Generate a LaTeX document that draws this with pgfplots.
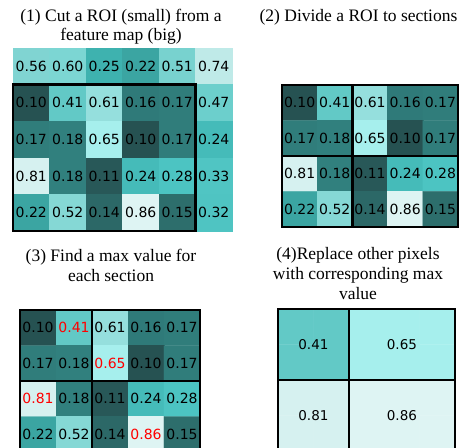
\documentclass[border=0pt]{standalone}
\usepackage{pgfplots}
\pgfplotsset{compat=1.18}
\usepackage{pgfplotstable}
\usepackage{fontspec}
\setmainfont{Liberation Serif}
\newfontfamily\dejavu{DejaVu Sans}
\protected\def\numfont{\dejavu\fontsize{14}{16}\selectfont}
\protected\def\bignumfont{\dejavu\fontsize{13.5}{15}\selectfont}
\protected\def\tfont{\fontsize{17.5}{20}\selectfont}
\protected\def\printval#1{\pgfmathprintnumber[fixed,fixed zerofill,precision=2,assume math mode=true]{#1}}

\pgfplotsset{
  colormap={roi}{
    rgb255(10pt)=(38,82,82);
    rgb255(11pt)=(40,88,88);
    rgb255(14pt)=(44,104,103);
    rgb255(15pt)=(45,110,108);
    rgb255(16pt)=(47,122,121);
    rgb255(17pt)=(48,125,123);
    rgb255(18pt)=(49,128,126);
    rgb255(22pt)=(59,165,162);
    rgb255(24pt)=(69,187,185);
    rgb255(25pt)=(62,178,175);
    rgb255(28pt)=(76,196,194);
    rgb255(32pt)=(79,196,194);
    rgb255(33pt)=(80,197,195);
    rgb255(41pt)=(98,201,198);
    rgb255(47pt)=(108,207,204);
    rgb255(51pt)=(120,210,207);
    rgb255(52pt)=(133,216,213);
    rgb255(56pt)=(128,212,210);
    rgb255(60pt)=(124,214,211);
    rgb255(61pt)=(149,223,221);
    rgb255(65pt)=(166,239,237);
    rgb255(74pt)=(191,234,232);
    rgb255(81pt)=(214,241,240);
    rgb255(86pt)=(222,244,243)
  },
  roiax/.style={
    scale only axis, anchor=north west, y dir=reverse,
    xtick=\empty, ytick=\empty, enlargelimits=false,
    axis line style={black!25, line width=0.6pt},
    colormap name=roi, point meta min=0.10, point meta max=0.86,
    clip=false,
  },
  mycells/.style={matrix plot*, mesh/cols=#1, point meta=explicit},
  mylabs/.style={only marks, mark=none, point meta=explicit,
    nodes near coords={\printval{\pgfplotspointmeta}},
    every node near coord/.style={anchor=center, font=\numfont, text=#1, inner sep=0pt}},
  mybox/.style={black, line width=2.2pt, line cap=rect, mark=none},
}

% feature map (5 rows x 6 cols)
\pgfplotstableread{
x y v
0 0 0.56
1 0 0.60
2 0 0.25
3 0 0.22
4 0 0.51
5 0 0.74
0 1 0.10
1 1 0.41
2 1 0.61
3 1 0.16
4 1 0.17
5 1 0.47
0 2 0.17
1 2 0.18
2 2 0.65
3 2 0.10
4 2 0.17
5 2 0.24
0 3 0.81
1 3 0.18
2 3 0.11
3 3 0.24
4 3 0.28
5 3 0.33
0 4 0.22
1 4 0.52
2 4 0.14
3 4 0.86
4 4 0.15
5 4 0.32
}\fmap

% ROI (4 rows x 5 cols)
\pgfplotstableread{
x y v
0 0 0.10
1 0 0.41
2 0 0.61
3 0 0.16
4 0 0.17
0 1 0.17
1 1 0.18
2 1 0.65
3 1 0.10
4 1 0.17
0 2 0.81
1 2 0.18
2 2 0.11
3 2 0.24
4 2 0.28
0 3 0.22
1 3 0.52
2 3 0.14
3 3 0.86
4 3 0.15
}\roi

% ROI values that are not a section maximum
\pgfplotstableread{
x y v
0 0 0.10
2 0 0.61
3 0 0.16
4 0 0.17
0 1 0.17
1 1 0.18
3 1 0.10
4 1 0.17
1 2 0.18
2 2 0.11
3 2 0.24
4 2 0.28
0 3 0.22
1 3 0.52
2 3 0.14
4 3 0.15
}\roirest

% section maxima
\pgfplotstableread{
x y v
1 0 0.41
2 1 0.65
0 2 0.81
3 3 0.86
}\roimax

% pooled map (4 rows x 5 cols)
\pgfplotstableread{
x y v
0 0 0.41
1 0 0.41
2 0 0.65
3 0 0.65
4 0 0.65
0 1 0.41
1 1 0.41
2 1 0.65
3 1 0.65
4 1 0.65
0 2 0.81
1 2 0.81
2 2 0.86
3 2 0.86
4 2 0.86
0 3 0.81
1 3 0.81
2 3 0.86
3 3 0.86
4 3 0.86
}\pooled

\pgfplotstableread{
x y v
0.5 0.5 0.41
3 0.5 0.65
0.5 2.5 0.81
3 2.5 0.86
}\pooledlab

\begin{document}
\begin{tikzpicture}
\useasboundingbox (0pt,0pt) rectangle (465pt,447pt);
\clip (0pt,0pt) rectangle (465pt,447pt);

\node[anchor=base, inner sep=0pt] at (121pt,425.3pt) {\tfont (1) Cut a ROI (small) from a};
\node[anchor=base, inner sep=0pt] at (121pt,406.3pt) {\tfont feature map (big)};
\node[anchor=base, inner sep=0pt] at (358.5pt,425.3pt) {\tfont (2) Divide a ROI to sections};
\node[anchor=base, inner sep=0pt] at (111pt,185.3pt) {\tfont (3) Find a max value for};
\node[anchor=base, inner sep=0pt] at (111pt,165.3pt) {\tfont each section};
\node[anchor=base, inner sep=0pt] at (358pt,187.7pt) {\tfont (4)Replace other pixels};
\node[anchor=base, inner sep=0pt] at (358pt,167.7pt) {\tfont with corresponding max};
\node[anchor=base, inner sep=0pt] at (358pt,147.7pt) {\tfont value};

% (1)
\begin{axis}[roiax, at={(13pt,399pt)}, width=219pt, height=183pt,
  xmin=-0.5, xmax=5.5, ymin=-0.5, ymax=4.5]
\addplot[mycells=6] table[meta=v] {\fmap};
\addplot[mylabs=black] table[meta=v] {\fmap};
\addplot[mybox] coordinates {(-0.5,0.5) (4.5,0.5) (4.5,4.5) (-0.5,4.5) (-0.5,0.5)};
\end{axis}

% (2)
\begin{axis}[roiax, at={(282pt,362pt)}, width=176pt, height=142pt,
  xmin=-0.5, xmax=4.5, ymin=-0.5, ymax=3.5]
\addplot[mycells=5] table[meta=v] {\roi};
\addplot[mylabs=black] table[meta=v] {\roi};
\addplot[mybox] coordinates {(-0.5,-0.5) (4.5,-0.5) (4.5,3.5) (-0.5,3.5) (-0.5,-0.5)};
\addplot[mybox] coordinates {(1.5,-0.5) (1.5,3.5)};
\addplot[mybox] coordinates {(-0.5,1.5) (4.5,1.5)};
\end{axis}

% (3)
\begin{axis}[roiax, at={(20pt,137pt)}, width=180pt, height=142pt,
  xmin=-0.5, xmax=4.5, ymin=-0.5, ymax=3.5]
\addplot[mycells=5] table[meta=v] {\roi};
\addplot[mylabs=black] table[meta=v] {\roirest};
\addplot[mylabs=red] table[meta=v] {\roimax};
\addplot[mybox] coordinates {(-0.5,-0.5) (4.5,-0.5) (4.5,3.5) (-0.5,3.5) (-0.5,-0.5)};
\addplot[mybox] coordinates {(1.5,-0.5) (1.5,3.5)};
\addplot[mybox] coordinates {(-0.5,1.5) (4.5,1.5)};
\end{axis}

% (4)
\begin{axis}[roiax, at={(278pt,138pt)}, width=177pt, height=142pt,
  xmin=-0.5, xmax=4.5, ymin=-0.5, ymax=3.5]
\addplot[mycells=5] table[meta=v] {\pooled};
\addplot[mylabs=black, every node near coord/.append style={font=\bignumfont}] table[meta=v] {\pooledlab};
\addplot[mybox] coordinates {(-0.5,-0.5) (4.5,-0.5) (4.5,3.5) (-0.5,3.5) (-0.5,-0.5)};
\addplot[mybox] coordinates {(1.5,-0.5) (1.5,3.5)};
\addplot[mybox] coordinates {(-0.5,1.5) (4.5,1.5)};
\end{axis}
\end{tikzpicture}
\end{document}
